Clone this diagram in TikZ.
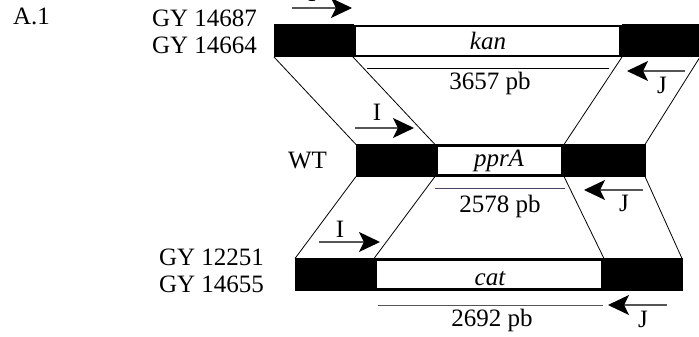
\documentclass[tikz,border=0pt]{standalone}
\usepackage{fontspec}
\setmainfont{Liberation Serif}
\usetikzlibrary{arrows.meta}
\definecolor{arrgray}{HTML}{555555}
\definecolor{lilac}{HTML}{4E4060}
\begin{document}
\begin{tikzpicture}[x=1pt,y=-1pt,
  every node/.style={font=\fontsize{25}{28}\selectfont, inner sep=0pt, outer sep=0pt},
  blk/.style={draw=black, fill=black, line width=1pt, minimum height=32pt},
  gene/.style={draw=black, fill=white, line width=2.4pt, minimum height=30pt},
  link/.style={draw=black, line width=0.8pt},
  sizeline/.style={draw=black, line width=1pt},
  primer/.style={draw=arrgray, line width=1.1pt, -{Stealth[length=21pt,width=20pt,inset=5pt,black]}},
  lbl/.style={anchor=base}
]
\useasboundingbox (0,0) rectangle (699,337);

% top construct
\node[blk, minimum width=79pt] (tL) at (313.5,41) {};
\node[gene, minimum width=266pt] (tK) at (487.5,41) {};
\node[blk, minimum width=78pt] (tR) at (661,41) {};
\node[lbl] (kan) at (488,50) {\itshape kan};

% WT
\node[blk, minimum width=79pt] (wL) at (395.5,160.5) {};
\node[gene, minimum width=126pt] (wP) at (499.5,160.5) {};
\node[blk, minimum width=81pt] (wR) at (604.5,160.5) {};
\node[lbl] (ppr) at (499,166) {\itshape pprA};

% bottom construct
\node[blk, minimum width=79pt] (bL) at (334.5,274.5) {};
\node[gene, minimum width=227pt] (bC) at (489,274.5) {};
\node[blk, minimum width=78pt] (bR) at (643,274.5) {};
\node[lbl] (cat) at (490,285) {\itshape cat};

% connectors
\draw[link] (tL.south west) -- (wL.north west);
\draw[link] (tL.south east) -- (wL.north east);
\draw[link] (tR.south west) -- (wR.north west);
\draw[link] (tR.south east) -- (wR.north east);
\draw[link] (wL.south west) -- (bL.north west);
\draw[link] (wL.south east) -- (bL.north east);
\draw[link] (wR.south west) -- (bR.north west);
\draw[link] (wR.south east) -- (bR.north east);

% labels left
\node[anchor=base west] (a1) at (13,25) {A.1};
\node[anchor=base east] (g1) at (257,27) {GY 14687};
\node[anchor=base east] (g2) at (257,54) {GY 14664};
\node[anchor=base east] (wt) at (327,168) {WT};
\node[anchor=base east] (g3) at (264,265) {GY 12251};
\node[anchor=base east] (g4) at (264,292) {GY 14655};

% size lines
\coordinate (s1a) at (367,69); \coordinate (s1b) at (609,69);
\draw[sizeline] (s1a) -- (s1b);
\node[lbl] (p1) at (490,89) {3657 pb};
\coordinate (s2a) at (435,188); \coordinate (s2b) at (565,188);
\draw[sizeline, draw=lilac] (s2a) -- (s2b);
\node[lbl] (p2) at (500,212) {2578 pb};
\coordinate (s3a) at (378,305); \coordinate (s3b) at (603,305);
\draw[sizeline, draw=arrgray] (s3a) -- (s3b);
\node[lbl] (p3) at (492,326) {2692 pb};

% primers
\coordinate (i1a) at (292,8); \coordinate (i1b) at (352,8);
\draw[primer] (i1a) -- (i1b);
\node[lbl] (i1) at (312,2) {I};
\coordinate (j1a) at (685,71); \coordinate (j1b) at (627,71);
\draw[primer] (j1a) -- (j1b);
\node[lbl] (j1) at (662,93) {J};

\coordinate (i2a) at (355,128); \coordinate (i2b) at (414,128);
\draw[primer] (i2a) -- (i2b);
\node[lbl] (i2) at (377,120) {I};
\coordinate (j2a) at (643,190); \coordinate (j2b) at (584,190);
\draw[primer] (j2a) -- (j2b);
\node[lbl] (j2) at (624,211) {J};

\coordinate (i3a) at (319,242); \coordinate (i3b) at (380,242);
\draw[primer] (i3a) -- (i3b);
\node[lbl] (i3) at (340,237) {I};
\coordinate (j3a) at (667,305); \coordinate (j3b) at (608,305);
\draw[primer] (j3a) -- (j3b);
\node[lbl] (j3) at (643,327) {J};
\end{tikzpicture}
\end{document}
